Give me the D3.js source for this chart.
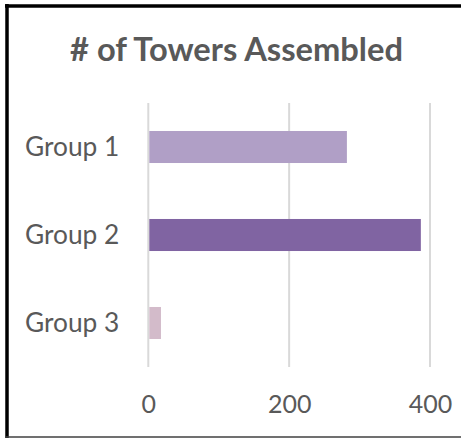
<!DOCTYPE html>
<html><head><meta charset="utf-8">
<script src="https://cdn.jsdelivr.net/npm/d3@7"></script>
<style>html,body{margin:0;padding:0;background:#fff;}svg{display:block;}</style>
</head><body>
<script>
const categories = ["Group 1", "Group 2", "Group 3"];
const values = [282, 387, 18];
const barColors = ["#B09FC6", "#8064A2", "#D3BBCA"];
const tickValues = [0, 200, 400];
const titleText = "# of Towers Assembled";

const W = 461, H = 438;
const FONT = "Lato, 'Open Sans', sans-serif";
const TXT = "#595959";

const svg = d3.select("body").append("svg").attr("width", W).attr("height", H);
svg.append("rect").attr("width", W).attr("height", H).attr("fill", "#fff");

const x = d3.scaleLinear().domain([0, 400]).range([148.3, 430]);
const y = d3.scaleBand().domain(categories).range([103, 367])
  .paddingInner(0.636).paddingOuter(0.318);

function fit(sel, targetW) {
  sel.attr("font-size", 100);
  const w = sel.node().getComputedTextLength();
  sel.attr("font-size", 100 * targetW / w);
}

// gridlines
svg.append("g").selectAll("line").data(tickValues).join("line")
  .attr("x1", d => x(d)).attr("x2", d => x(d))
  .attr("y1", 103).attr("y2", 367)
  .attr("stroke", "#D9D9D9").attr("stroke-width", 2);

// bars
svg.append("g").selectAll("rect").data(categories).join("rect")
  .attr("x", x(0) + 1)
  .attr("y", d => y(d))
  .attr("width", (d, i) => x(values[i]) - x(0) - 1)
  .attr("height", y.bandwidth())
  .attr("fill", (d, i) => barColors[i]);

// y axis labels
const yAxis = d3.axisLeft(y).tickSize(0).tickPadding(29);
const gy = svg.append("g").attr("transform", `translate(${x(0)},0)`).call(yAxis);
gy.select(".domain").remove();
gy.selectAll("text").attr("fill", TXT).attr("font-family", FONT)
  .attr("font-size", 26.3).attr("dy", "0.36em");

// x axis labels
const xAxis = d3.axisBottom(x).tickValues(tickValues).tickSize(0).tickPadding(0);
const gx = svg.append("g").attr("transform", `translate(0,413)`).call(xAxis);
gx.select(".domain").remove();
gx.selectAll("text").attr("fill", TXT).attr("font-family", FONT)
  .attr("font-size", 25).attr("dy", 0);

// title
const title = svg.append("text").text(titleText)
  .attr("x", 236.5).attr("y", 61).attr("text-anchor", "middle")
  .attr("font-family", FONT).attr("font-weight", "bold").attr("fill", TXT);
fit(title, 333);

// frame
svg.append("line").attr("x1", 7).attr("x2", 7).attr("y1", 4).attr("y2", 438)
  .attr("stroke", "#000").attr("stroke-width", 3.5);
svg.append("line").attr("x1", 5).attr("x2", 461).attr("y1", 6).attr("y2", 6)
  .attr("stroke", "#000").attr("stroke-width", 3.5);
svg.append("line").attr("x1", 5).attr("x2", 461).attr("y1", 437).attr("y2", 437)
  .attr("stroke", "#404040").attr("stroke-width", 1.5);
</script>
</body></html>
